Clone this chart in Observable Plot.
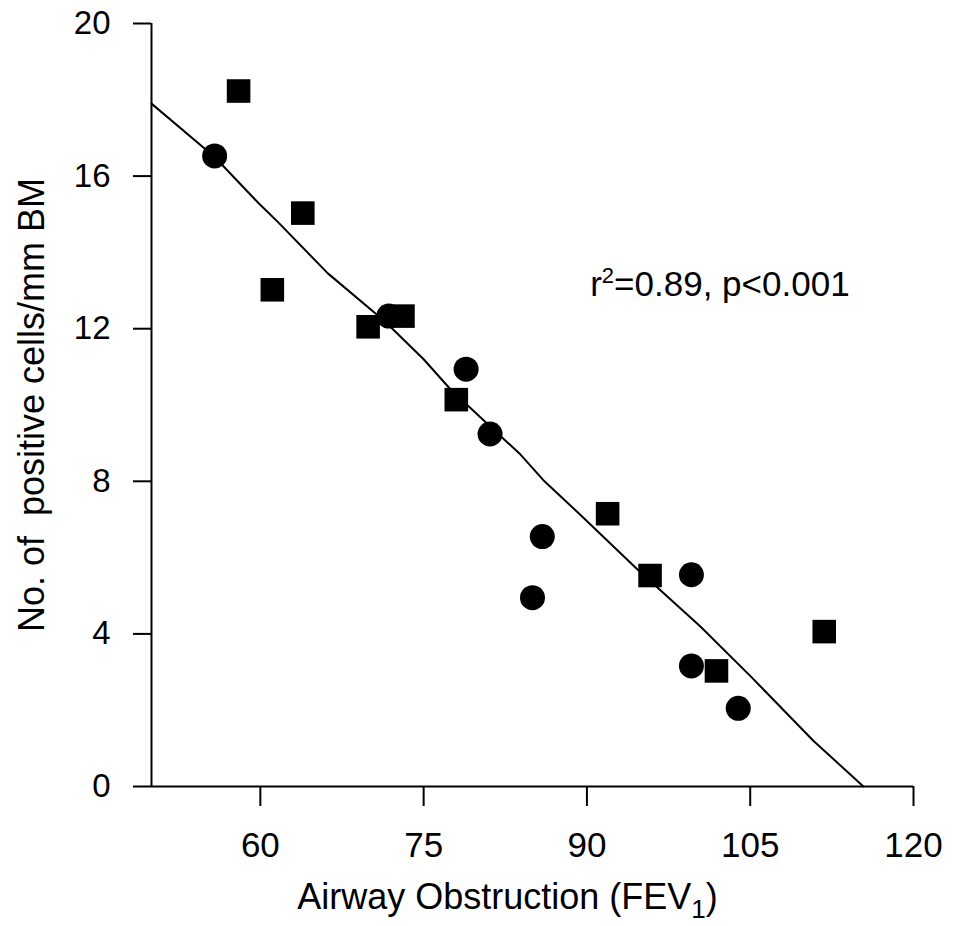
<!DOCTYPE html>
<html><head><meta charset="utf-8">
<script src="https://cdn.jsdelivr.net/npm/d3@7"></script>
<script src="https://cdn.jsdelivr.net/npm/@observablehq/plot@0.6"></script>
<style>
body{margin:0;background:#fff}
svg{font-family:"Liberation Sans",Arial,Helvetica,sans-serif}
</style>
</head><body><div id="chart"></div>
<script>
// Circles (one group)
const circleX = [55.8, 71.8, 78.9, 81.1, 85.9, 85.0, 99.6, 99.6, 103.9];
const circleY = [16.53, 12.33, 10.94, 9.24, 6.55, 4.95, 5.55, 3.16, 2.05];
// Squares (other group)
const squareX = [58.0, 63.9, 61.1, 69.9, 73.1, 78.0, 91.9, 95.8, 111.8, 101.9];
const squareY = [18.23, 15.03, 13.02, 12.05, 12.33, 10.14, 7.15, 5.53, 4.06, 3.03];
// Regression line as drawn
const fitX = [50, 55.8, 59.8, 61.6, 66.2, 71.4, 75.0, 77.5, 83.9, 86.1, 89.1, 94.6, 100.4, 105.0, 110.8, 115.4];
const fitY = [17.9, 16.5, 15.3, 14.8, 13.45, 12.2, 11.2, 10.4, 8.7, 8.0, 7.2, 5.7, 4.2, 2.9, 1.2, 0];
const xTicks = [60, 75, 90, 105, 120];
const yTicks = [0, 4, 8, 12, 16, 20];
const xLabel = "Airway Obstruction (FEV1)";
const yLabel = "No. of  positive cells/mm BM";
const annotation = "r2=0.89, p<0.001";

const circles = circleX.map((x, i) => ({x, y: circleY[i]}));
const squares = squareX.map((x, i) => ({x, y: squareY[i]}));
const fit = fitX.map((x, i) => ({x, y: fitY[i]}));

const chart = Plot.plot({
  width: 953,
  height: 926,
  marginLeft: 151,
  marginRight: 40,
  marginTop: 23,
  marginBottom: 140,
  style: {background: "#fff", color: "#000", fontFamily: "'Liberation Sans', Arial, sans-serif"},
  x: {domain: [50, 120]},
  y: {domain: [0, 20]},
  marks: [
    Plot.axisX({ticks: xTicks, tickSize: 20, tickPadding: 26, fontSize: 35, strokeWidth: 2, label: null}),
    Plot.axisY({ticks: yTicks, tickSize: 18, tickPadding: 23, fontSize: 33, strokeWidth: 2, label: null}),
    Plot.ruleX([50], {stroke: "#000", strokeWidth: 2}),
    Plot.ruleY([0], {stroke: "#000", strokeWidth: 2}),
    Plot.line(fit, {x: "x", y: "y", stroke: "#000", strokeWidth: 2}),
    Plot.dot(circles, {x: "x", y: "y", r: 12.5, fill: "#000", stroke: null, symbol: "circle"}),
    Plot.dot(squares, {x: "x", y: "y", r: 13.3, fill: "#000", stroke: null, symbol: "square"}),
    Plot.text([annotation], {x: 90.3, y: 13.15, text: d => d, textAnchor: "start", lineAnchor: "middle", fontSize: 35, fill: "#000"}),
    Plot.text([xLabel], {frameAnchor: "bottom", dx: -25, dy: 122, text: d => d, lineAnchor: "bottom", fontSize: 36, fill: "#000"}),
    Plot.text([yLabel], {frameAnchor: "left", dx: -108, rotate: -90, text: d => d, textAnchor: "middle", lineAnchor: "bottom", fontSize: 36, fill: "#000"})
  ]
});
document.getElementById("chart").appendChild(chart);

// subscript for FEV1 and superscript for r2
d3.select(chart).selectAll("text").each(function() {
  const t = d3.select(this);
  if (this.textContent === xLabel) {
    t.text("");
    t.append("tspan").text("Airway Obstruction (FEV");
    t.append("tspan").attr("font-size", 26).attr("dy", 9).text("1");
    t.append("tspan").attr("dy", -9).text(")");
  } else if (this.textContent === annotation) {
    t.text("");
    t.append("tspan").text("r");
    t.append("tspan").attr("font-size", 22).attr("dy", -13).text("2");
    t.append("tspan").attr("dy", 13).text("=0.89, p<0.001");
  }
});
</script>
</body></html>
